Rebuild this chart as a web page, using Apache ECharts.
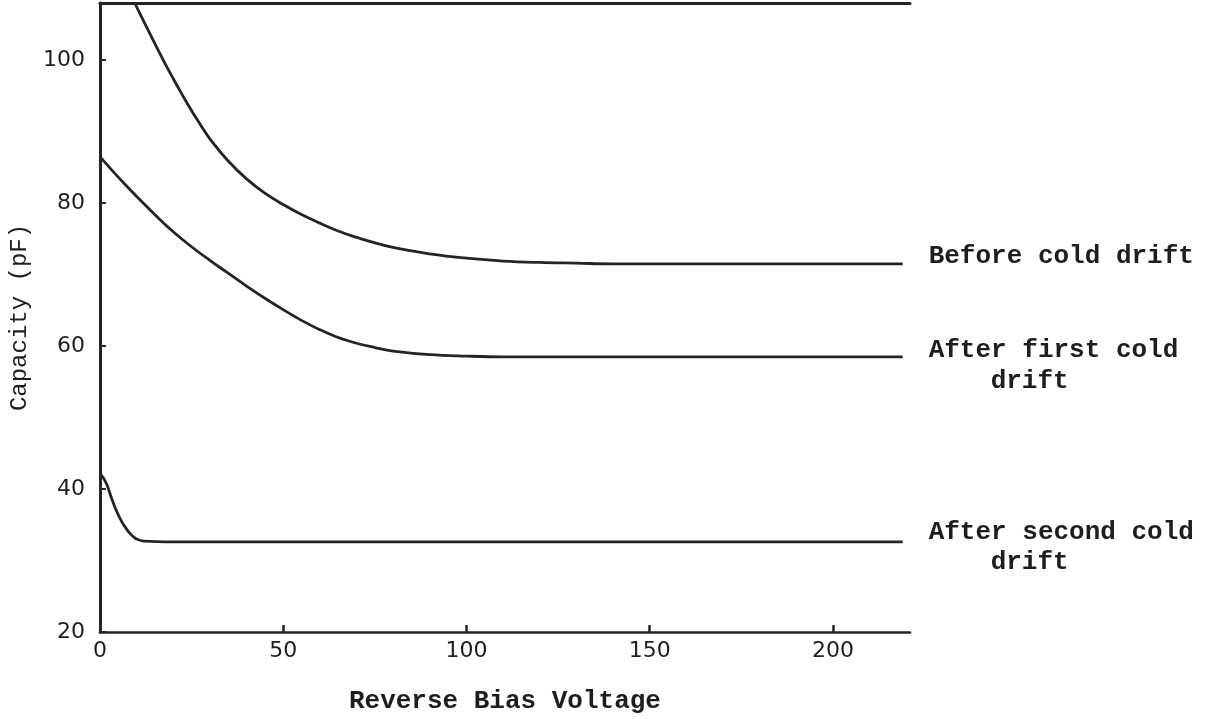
<!DOCTYPE html>
<html>
<head>
<meta charset="utf-8">
<script src="https://cdn.jsdelivr.net/npm/echarts@6/dist/echarts.min.js"></script>
<style>
  html, body { margin: 0; padding: 0; background: #ffffff; }
  #chart { width: 1212px; height: 719px; }
</style>
</head>
<body>
<div id="chart"></div>
<script>
// Reverse bias voltage (x) and capacity in pF (y)
const beforeV = [9.5, 12, 15, 18, 21, 24, 27, 30, 35, 40, 45, 50, 55, 60, 65, 70, 80, 90, 100, 110, 120, 130, 140, 170, 219];
const beforeC = [108, 105.4, 102.3, 99.3, 96.5, 93.8, 91.3, 89.0, 85.9, 83.4, 81.4, 79.8, 78.4, 77.2, 76.1, 75.2, 73.8, 72.9, 72.3, 71.9, 71.7, 71.6, 71.5, 71.5, 71.5];

const firstV = [0, 4, 8, 12, 16, 20, 25, 30, 35, 40, 45, 50, 55, 60, 65, 70, 75, 80, 90, 100, 110, 150, 219];
const firstC = [86.5, 84.2, 82.0, 79.9, 77.9, 76.0, 73.9, 72.0, 70.2, 68.4, 66.7, 65.1, 63.6, 62.3, 61.2, 60.4, 59.8, 59.3, 58.8, 58.6, 58.5, 58.5, 58.5];

const secondV = [0, 1, 2, 3, 4, 5, 6, 7, 8, 9, 10, 12, 20, 60, 120, 219];
const secondC = [42.2, 41.5, 40.5, 39.0, 37.6, 36.4, 35.4, 34.6, 33.9, 33.4, 33.0, 32.7, 32.6, 32.6, 32.6, 32.6];

const xTicks = [0, 50, 100, 150, 200];
const yTicks = [20, 40, 60, 80, 100];

const seriesNames = ['Before cold drift', 'After first cold drift', 'After second cold drift'];

const zip = (xs, ys) => xs.map((x, i) => [x, ys[i]]);

const monoFont = '"Liberation Mono", "DejaVu Sans Mono", monospace';
const tickFont = '"DejaVu Sans", sans-serif';
const ink = '#242424';

const lineBase = {
  type: 'line',
  showSymbol: false,
  smooth: 0.4,
  lineStyle: { color: ink, width: 2.8 },
  emphasis: { disabled: true },
  silent: true
};

const endLabelBase = {
  show: true,
  fontFamily: monoFont,
  fontWeight: 'bold',
  fontSize: 26,
  color: '#1e1e1e',
  distance: 26
};

const richStyle = (lh) => ({
  a: { fontFamily: monoFont, fontWeight: 'bold', fontSize: 26, color: '#1e1e1e', lineHeight: lh },
  b: { fontFamily: monoFont, fontWeight: 'bold', fontSize: 26, color: '#1e1e1e', lineHeight: lh, padding: [0, 0, 0, 62] }
});

const option = {
  animation: false,
  backgroundColor: '#ffffff',
  grid: { left: 99, right: 302, top: 3, bottom: 87, containLabel: false },
  xAxis: [{
    type: 'value',
    min: 0,
    max: 221,
    interval: 50,
    name: 'Reverse Bias Voltage',
    nameLocation: 'middle',
    nameGap: 56,
    nameTextStyle: { fontFamily: monoFont, fontWeight: 'bold', fontSize: 26, color: '#1e1e1e' },
    axisLine: { show: true, lineStyle: { color: ink, width: 2.5 } },
    axisTick: { show: true, inside: true, length: 7, customValues: xTicks, lineStyle: { color: ink, width: 2.5 } },
    axisLabel: {
      fontFamily: tickFont, fontSize: 22, color: '#1e1e1e', margin: 8,
      customValues: xTicks,
      formatter: v => (xTicks.indexOf(v) >= 0 ? String(v) : '')
    },
    splitLine: { show: false }
  }, {
    type: 'value',
    position: 'top',
    min: 0,
    max: 221,
    axisLine: { show: true, lineStyle: { color: ink, width: 3 } },
    axisTick: { show: false },
    axisLabel: { show: false },
    splitLine: { show: false }
  }],
  yAxis: {
    type: 'value',
    min: 20,
    max: 108,
    interval: 20,
    name: 'Capacity (pF)',
    nameLocation: 'middle',
    nameGap: 62,
    nameTextStyle: { fontFamily: monoFont, fontWeight: 'normal', fontSize: 24, color: '#1e1e1e' },
    axisLine: { show: true, lineStyle: { color: ink, width: 3 } },
    axisTick: { show: true, inside: true, length: 6, customValues: yTicks, lineStyle: { color: ink, width: 2 } },
    axisLabel: {
      fontFamily: tickFont, fontSize: 22, color: '#1e1e1e', margin: 15,
      customValues: yTicks,
      formatter: v => (yTicks.indexOf(v) >= 0 ? String(v) : '')
    },
    splitLine: { show: false }
  },
  series: [
    Object.assign({}, lineBase, {
      name: seriesNames[0],
      data: zip(beforeV, beforeC),
      endLabel: Object.assign({}, endLabelBase, {
        offset: [0, -7],
        formatter: () => 'Before cold drift'
      })
    }),
    Object.assign({}, lineBase, {
      name: seriesNames[1],
      data: zip(firstV, firstC),
      endLabel: Object.assign({}, endLabelBase, {
        offset: [0, 9],
        formatter: () => '{a|After first cold}\n{b|drift}',
        rich: richStyle(31)
      })
    }),
    Object.assign({}, lineBase, {
      name: seriesNames[2],
      data: zip(secondV, secondC),
      endLabel: Object.assign({}, endLabelBase, {
        offset: [0, 6],
        formatter: () => '{a|After second cold}\n{b|drift}',
        rich: richStyle(30)
      })
    })
  ]
};

const chart = echarts.init(document.getElementById('chart'), null, { renderer: 'canvas' });
chart.setOption(option);
</script>
</body>
</html>
